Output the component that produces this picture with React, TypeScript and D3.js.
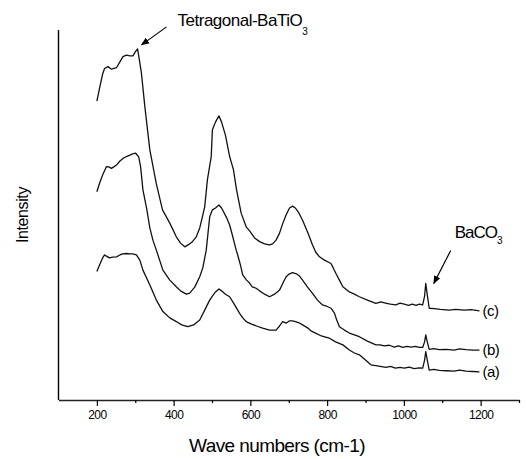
import React, { useEffect, useRef } from 'react';
import * as d3 from 'd3';

// Raman spectra, offset for clarity. [wave number (cm-1), intensity (arb. units)]
const spectrumA: [number, number][] = [
  [200, 34.7], [207, 36.5], [215, 38.4], [220, 39.2], [225, 38.9], [233, 38.4], [241, 38.6],
  [251, 38.7], [260, 39.2], [267, 39.5], [277, 39.6], [286, 39.5], [293, 39.5], [303, 39.2],
  [312, 37.8], [320, 35.1], [338, 31.1], [355, 27.0], [372, 23.9], [390, 22.2], [407, 21.2],
  [421, 20.3], [437, 19.8], [452, 20.3], [468, 21.6], [481, 24.3], [494, 27.0], [501, 28.1],
  [509, 29.2], [518, 30.0], [525, 29.5], [535, 28.6], [546, 27.9], [559, 25.7], [572, 23.4],
  [580, 22.2], [589, 21.2], [603, 20.5], [616, 20.0], [632, 19.4], [650, 18.9], [667, 18.9],
  [676, 20.0], [684, 21.2], [694, 20.8], [702, 21.4], [710, 21.4], [720, 21.1], [728, 20.8],
  [736, 20.3], [749, 19.5], [759, 18.6], [771, 18.0], [785, 17.3], [796, 17.0], [806, 16.7],
  [822, 15.7], [841, 14.9], [858, 13.5], [871, 12.7], [884, 12.2], [900, 10.8], [914, 9.5],
  [931, 9.2], [942, 9.0], [953, 8.8], [965, 9.1], [978, 8.6], [990, 8.8], [1001, 8.6],
  [1014, 8.9], [1027, 8.5], [1040, 8.7], [1049, 8.6], [1054, 10.8], [1057, 13.1], [1061, 10.8],
  [1066, 8.1], [1078, 8.3], [1092, 8.0], [1110, 7.9], [1131, 7.8], [1145, 8.1], [1162, 7.8],
  [1180, 7.7], [1197, 7.6],
];

const spectrumB: [number, number][] = [
  [200, 56.3], [207, 58.6], [215, 60.8], [225, 63.1], [231, 63.0], [238, 62.6], [244, 63.0],
  [251, 63.5], [260, 64.6], [268, 65.3], [277, 65.8], [286, 66.2], [293, 66.5], [301, 66.7],
  [309, 65.7], [314, 63.0], [320, 56.8], [330, 51.6], [338, 46.5], [346, 43.2], [355, 40.5],
  [372, 35.1], [390, 32.4], [407, 30.6], [418, 29.5], [433, 28.6], [442, 28.9], [455, 30.5],
  [468, 33.3], [476, 35.7], [485, 40.5], [494, 49.5], [501, 51.4], [509, 51.9], [518, 52.7],
  [525, 51.9], [537, 49.5], [546, 47.3], [553, 44.6], [563, 40.5], [567, 39.2], [574, 36.5],
  [580, 33.8], [590, 32.4], [598, 31.6], [605, 30.6], [615, 30.2], [624, 29.5], [637, 28.6],
  [650, 27.9], [663, 28.6], [676, 29.7], [684, 31.4], [693, 33.3], [702, 34.1], [710, 34.4],
  [720, 34.1], [728, 33.5], [736, 32.4], [749, 30.5], [762, 28.8], [775, 27.0], [788, 25.7],
  [798, 25.4], [810, 24.8], [819, 23.5], [825, 21.6], [832, 19.8], [845, 18.9], [858, 18.1],
  [871, 17.6], [884, 17.1], [905, 15.9], [927, 14.9], [938, 14.9], [949, 14.6], [962, 14.8],
  [975, 14.3], [986, 14.6], [997, 14.2], [1008, 14.5], [1019, 14.3], [1030, 14.5], [1040, 14.2],
  [1049, 14.2], [1054, 15.7], [1057, 17.6], [1061, 15.7], [1066, 13.7], [1078, 13.9],
  [1092, 13.6], [1110, 13.7], [1131, 13.5], [1145, 13.8], [1162, 13.6], [1180, 13.5], [1197, 13.5],
];

const spectrumC: [number, number][] = [
  [200, 80.8], [207, 84.3], [215, 88.1], [220, 89.6], [229, 90.1], [238, 89.4], [251, 89.8],
  [260, 91.4], [268, 92.8], [277, 93.2], [286, 93.0], [294, 93.0], [300, 94.1], [306, 94.9],
  [310, 92.4], [316, 88.4], [325, 79.3], [338, 67.6], [355, 58.4], [371, 51.4], [390, 47.8],
  [407, 44.1], [418, 42.4], [429, 41.4], [442, 42.2], [449, 42.8], [459, 44.1], [468, 46.5],
  [475, 49.5], [481, 52.2], [488, 59.5], [498, 65.8], [501, 73.0], [509, 75.1], [518, 76.8],
  [525, 75.1], [535, 71.6], [546, 65.8], [556, 62.2], [564, 56.8], [576, 50.5], [589, 46.8],
  [598, 45.7], [611, 43.8], [624, 42.8], [637, 42.2], [650, 41.9], [658, 42.2], [667, 43.2],
  [676, 45.1], [684, 47.6], [693, 50.0], [702, 51.9], [710, 52.4], [717, 51.9], [725, 50.8],
  [736, 48.6], [749, 45.4], [762, 41.9], [770, 40.0], [780, 38.7], [793, 37.8], [810, 36.9],
  [816, 35.7], [823, 34.2], [832, 32.4], [841, 30.6], [858, 29.2], [871, 28.6], [884, 27.9],
  [905, 27.0], [927, 26.1], [940, 26.5], [952, 26.2], [965, 25.9], [979, 25.7], [990, 26.2],
  [1001, 25.9], [1012, 25.6], [1022, 25.9], [1032, 25.6], [1040, 25.9], [1049, 25.7],
  [1054, 28.1], [1057, 31.5], [1061, 28.4], [1066, 24.8], [1079, 24.7], [1095, 24.5],
  [1118, 24.3], [1135, 24.5], [1157, 24.3], [1175, 24.4], [1197, 24.1],
];

const seriesLabels = ['(a)', '(b)', '(c)'];
const majorTicks = [200, 400, 600, 800, 1000, 1200];
const minorTicks = [300, 500, 700, 900, 1100, 1300];

// peak annotations: [wave number, intensity, main text, subscript]
const peakNotes: [number, number, string, string][] = [
  [306, 94.9, 'Tetragonal-BaTiO', '3'],
  [1057, 31.5, 'BaCO', '3'],
];

const FONT = "'Liberation Sans', Arial, Helvetica, sans-serif";

const App = () => {
  const svgRef = useRef<SVGSVGElement>(null);

  useEffect(() => {
    document.body.style.margin = '0';
    const svg = d3.select(svgRef.current);
    svg.selectAll('*').remove();

    const width = 526;
    const height = 459;
    svg.attr('width', width).attr('height', height);

    const x = d3.scaleLinear().domain([100, 1300]).range([58.5, 519]);
    const y = d3.scaleLinear().domain([0, 100]).range([400, 30]);

    svg.append('rect').attr('width', width).attr('height', height).attr('fill', '#fff');

    // axes: plain left line, bottom axis with major/minor ticks
    svg.append('line')
      .attr('x1', x(100)).attr('x2', x(100))
      .attr('y1', y(100)).attr('y2', y(0))
      .attr('stroke', '#000').attr('stroke-width', 1.4);

    const xAxis = svg.append('g').attr('transform', `translate(0,${y(0)})`);
    xAxis.call(
      d3.axisBottom(x).tickValues(majorTicks).tickSize(6).tickSizeOuter(0).tickPadding(4)
        .tickFormat(d3.format('d'))
    );
    xAxis.select('.domain').attr('stroke', '#222').attr('stroke-width', 1.3);
    xAxis.selectAll('.tick line').attr('stroke', '#000').attr('stroke-width', 1.2);
    xAxis.selectAll('.tick text')
      .attr('font-family', FONT).attr('font-size', 12).attr('fill', '#000')
      .attr('letter-spacing', -0.6);

    const minor = svg.append('g').attr('transform', `translate(0,${y(0)})`);
    minor.call(d3.axisBottom(x).tickValues(minorTicks).tickSize(3).tickSizeOuter(0).tickFormat(() => ''));
    minor.select('.domain').remove();
    minor.selectAll('.tick line').attr('stroke', '#000').attr('stroke-width', 1.2);

    svg.append('text')
      .attr('x', 277).attr('y', 452)
      .attr('text-anchor', 'middle')
      .attr('font-family', FONT).attr('font-size', 19).attr('letter-spacing', -0.6)
      .text('Wave numbers (cm-1)');

    svg.append('text')
      .attr('transform', `translate(28,215) rotate(-90)`)
      .attr('text-anchor', 'middle')
      .attr('font-family', FONT).attr('font-size', 16).attr('letter-spacing', -0.4)
      .text('Intensity');

    // spectra
    const line = d3.line<[number, number]>()
      .x(d => x(d[0]))
      .y(d => y(d[1]));

    const spectra = [spectrumA, spectrumB, spectrumC];
    spectra.forEach((s, i) => {
      svg.append('path')
        .datum(s)
        .attr('d', line)
        .attr('fill', 'none')
        .attr('stroke', '#111')
        .attr('stroke-width', 1.3)
        .attr('stroke-linejoin', 'round');

      const last = s[s.length - 1];
      svg.append('text')
        .attr('x', x(last[0]) + 3)
        .attr('y', y(last[1]) + 5)
        .attr('font-family', FONT).attr('font-size', 15).attr('letter-spacing', -0.5)
        .text(seriesLabels[i]);
    });

    // arrow annotations
    svg.append('defs').append('marker')
      .attr('id', 'arrowHead')
      .attr('viewBox', '0 0 10 10')
      .attr('refX', 9).attr('refY', 5)
      .attr('markerWidth', 7).attr('markerHeight', 7)
      .attr('orient', 'auto')
      .append('path').attr('d', 'M0,1 L10,5 L0,9 Z').attr('fill', '#000');

    const offsets = [
      { tip: [4, -4], tail: [29, -22], text: [40, -23], sub: 9 },
      { tip: [8, 0], tail: [25, -33], text: [29, -45], sub: 6 },
    ];

    peakNotes.forEach((p, i) => {
      const px = x(p[0]);
      const py = y(p[1]);
      const o = offsets[i];
      svg.append('line')
        .attr('x1', px + o.tail[0]).attr('y1', py + o.tail[1])
        .attr('x2', px + o.tip[0]).attr('y2', py + o.tip[1])
        .attr('stroke', '#000').attr('stroke-width', 1.2)
        .attr('marker-end', 'url(#arrowHead)');

      const t = svg.append('text')
        .attr('x', px + o.text[0]).attr('y', py + o.text[1])
        .attr('font-family', FONT).attr('font-size', 17)
        .attr('letter-spacing', i === 0 ? -0.5 : -1);
      t.append('tspan').text(p[2]);
      t.append('tspan')
        .attr('dy', o.sub).attr('font-size', 10).attr('letter-spacing', 0)
        .text(p[3]);
    });
  }, []);

  return <svg ref={svgRef} style={{ display: 'block' }} />;
};

export default App;
